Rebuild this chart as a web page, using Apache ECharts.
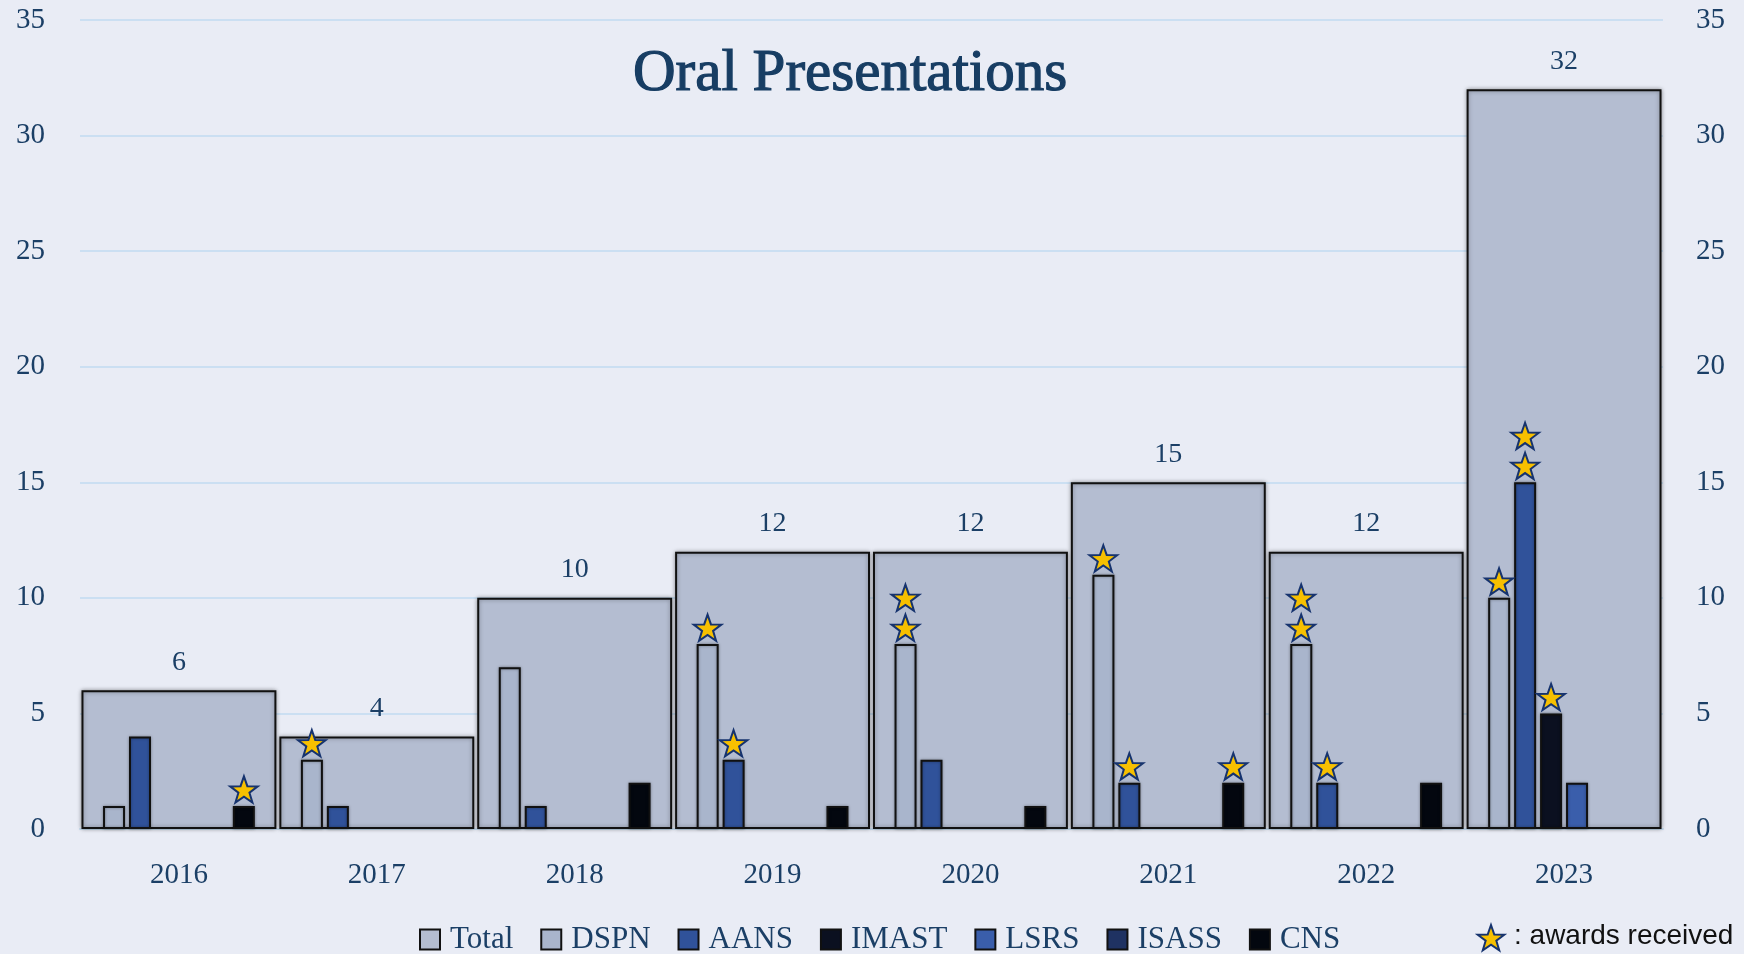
<!DOCTYPE html>
<html>
<head>
<meta charset="utf-8">
<title>Oral Presentations</title>
<script src="https://cdn.jsdelivr.net/npm/echarts@6/dist/echarts.min.js"></script>
<style>
  html, body { margin: 0; padding: 0; background: #e9ecf5; }
  #chart { width: 1744px; height: 954px; }
</style>
</head>
<body>
<div id="chart"></div>
<script>
// data
var years = ['2016', '2017', '2018', '2019', '2020', '2021', '2022', '2023'];
var yTicks = [0, 5, 10, 15, 20, 25, 30, 35];
var total = [6, 4, 10, 12, 12, 15, 12, 32];
var dspn  = [1, 3, 7, 8, 8, 11, 8, 10];
var aans  = [4, 1, 1, 3, 3, 2, 2, 15];
var imast = [null, null, null, null, null, null, null, 5];
var lsrs  = [null, null, null, null, null, null, null, 2];
var isass = [null, null, null, null, null, null, null, null];
var cns   = [1, null, 2, 1, 1, 2, 2, null];
// number of awards (stars) per bar
var dspnAwards  = [0, 1, 0, 1, 2, 1, 2, 1];
var aansAwards  = [0, 0, 0, 1, 0, 1, 1, 2];
var imastAwards = [0, 0, 0, 0, 0, 0, 0, 1];
var cnsAwards   = [1, 0, 0, 0, 0, 1, 0, 0];

var NAVY = '#1b3f66';
var SERIF = '"Liberation Serif", "DejaVu Serif", serif';
var SLOT = 26; // bar width 22 + gap 4

// 5 point star as polygon points, centred on cx,cy
function starPoints(cx, cy, r) {
    var pts = [];
    for (var i = 0; i < 10; i++) {
        var rr = i % 2 === 0 ? r : r * 0.4;
        var a = -Math.PI / 2 + i * Math.PI / 5;
        pts.push([cx + rr * Math.cos(a), cy + rr * Math.sin(a)]);
    }
    return pts;
}

// slot order of the small bars inside a year
var subSeries = [
    { name: 'DSPN',  data: dspn,  color: '#a9b5cc', awards: dspnAwards },
    { name: 'AANS',  data: aans,  color: '#30529a', awards: aansAwards },
    { name: 'IMAST', data: imast, color: '#0b1020', awards: imastAwards },
    { name: 'LSRS',  data: lsrs,  color: '#3a5eab', awards: null },
    { name: 'ISASS', data: isass, color: '#1f3262', awards: null },
    { name: 'CNS',   data: cns,   color: '#03070f', awards: cnsAwards }
];

// stars: [yearIndex, slot, barValue, k-th star]
var stars = [];
subSeries.forEach(function (s, slot) {
    if (!s.awards) return;
    for (var i = 0; i < years.length; i++) {
        for (var k = 0; k < s.awards[i]; k++) {
            stars.push([i, slot, s.data[i], k]);
        }
    }
});

var myChart = echarts.init(document.getElementById('chart'));

var series = [{
    name: 'Total',
    type: 'bar',
    xAxisIndex: 0,
    yAxisIndex: 0,
    data: total,
    barWidth: '98.5%',
    itemStyle: {
        color: '#b4bdd1',
        borderColor: '#111',
        borderWidth: 2,
        shadowBlur: 4,
        shadowColor: 'rgba(0,0,0,0.35)'
    },
    label: {
        show: true,
        position: 'top',
        distance: 14,
        color: NAVY,
        fontFamily: SERIF,
        fontSize: 28
    },
    z: 2
}];

subSeries.forEach(function (s) {
    series.push({
        name: s.name,
        type: 'bar',
        xAxisIndex: 1,
        yAxisIndex: 0,
        data: s.data,
        barWidth: 22,
        barGap: '18%',
        itemStyle: {
            color: s.color,
            borderColor: '#111',
            borderWidth: 2,
            shadowBlur: 3,
            shadowColor: 'rgba(0,0,0,0.35)'
        },
        z: 3
    });
});

series.push({
    name: 'awards',
    type: 'custom',
    xAxisIndex: 1,
    yAxisIndex: 0,
    data: stars,
    z: 5,
    renderItem: function (params, api) {
        var p = api.coord([api.value(0), api.value(2)]);
        var x = p[0] + (api.value(1) - 2.5) * SLOT;
        var y = p[1] - 16 - api.value(3) * 30;
        return {
            type: 'polygon',
            shape: { points: starPoints(x, y + 1, 14.5) },
            style: { fill: '#f7c000', stroke: '#16336e', lineWidth: 2 }
        };
    }
});

var option = {
    backgroundColor: '#e9ecf5',
    animation: false,
    title: {
        text: 'Oral Presentations',
        left: 628,
        top: 40,
        textStyle: {
            color: '#173d63',
            fontFamily: SERIF,
            fontWeight: 'normal',
            fontSize: 59,
            textBorderColor: '#173d63',
            textBorderWidth: 1.2
        }
    },
    grid: { left: 80, right: 81, top: 20, bottom: 125 },
    legend: {
        left: 414,
        top: 919,
        icon: 'rect',
        itemWidth: 20,
        itemHeight: 20,
        itemGap: 27,
        data: ['Total', 'DSPN', 'AANS', 'IMAST', 'LSRS', 'ISASS', 'CNS'],
        textStyle: {
            color: NAVY,
            fontFamily: SERIF,
            fontSize: 31,
            padding: [0, 0, 0, 5]
        }
    },
    xAxis: [{
        type: 'category',
        data: years,
        axisLine: { lineStyle: { color: '#c5dbee', width: 2 } },
        axisTick: { show: false },
        axisLabel: { color: NAVY, fontFamily: SERIF, fontSize: 29, margin: 32 }
    }, {
        type: 'category',
        data: years,
        show: false
    }],
    yAxis: [{
        type: 'value',
        min: yTicks[0],
        max: yTicks[yTicks.length - 1],
        interval: 5,
        axisLine: { show: false },
        axisTick: { show: false },
        axisLabel: { color: NAVY, fontFamily: SERIF, fontSize: 29, margin: 35 },
        splitLine: { lineStyle: { color: '#cbdff2', width: 2 } }
    }, {
        type: 'value',
        min: yTicks[0],
        max: yTicks[yTicks.length - 1],
        interval: 5,
        position: 'right',
        axisLine: { show: false },
        axisTick: { show: false },
        axisLabel: { color: NAVY, fontFamily: SERIF, fontSize: 29, margin: 33 },
        splitLine: { show: false }
    }],
    graphic: [{
        type: 'polygon',
        shape: { points: starPoints(1491, 939, 14) },
        style: { fill: '#f7c000', stroke: '#16336e', lineWidth: 2 }
    }, {
        type: 'text',
        left: 1514,
        top: 922,
        style: {
            text: ': awards received',
            fill: '#111',
            font: '28px "Liberation Sans", "Open Sans", sans-serif'
        }
    }],
    series: series
};

myChart.setOption(option);
</script>
</body>
</html>
